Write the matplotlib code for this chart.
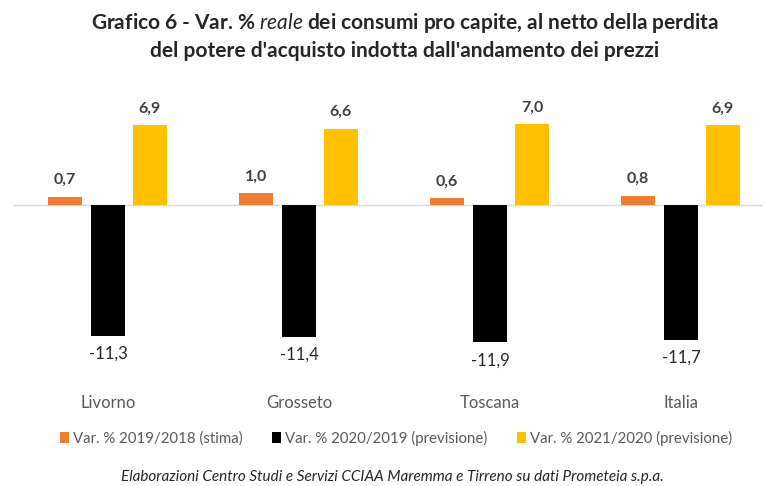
"""Grafico 6 - variazione reale dei consumi pro capite."""

import matplotlib.pyplot as plt
import numpy as np
from matplotlib.patches import Patch

categories = ["Livorno", "Grosseto", "Toscana", "Italia"]
series_names = [
    "Var. % 2019/2018 (stima)",
    "Var. % 2020/2019 (previsione)",
    "Var. % 2021/2020 (previsione)",
]
var_2019 = [0.7, 1.0, 0.6, 0.8]
var_2020 = [-11.3, -11.4, -11.9, -11.7]
var_2021 = [6.9, 6.6, 7.0, 6.9]

colors = ["#ED7D31", "#000000", "#FFC000"]
label_color = "#404040"
axis_text = "#595959"

plt.rcParams.update(
    {
        "font.family": ["Lato", "DejaVu Sans"],
        "mathtext.fontset": "custom",
        "mathtext.rm": "Lato",
        "mathtext.it": "Lato:italic",
        "mathtext.bf": "Lato:bold",
    }
)

W, H = 766, 486
fig = plt.figure(figsize=(W / 100, H / 100), dpi=100)
# axes placed in pixel coordinates of the reference
left, right, top, bottom = 12.5, 763, 100, 380
ax = fig.add_axes([left / W, 1 - bottom / H, (right - left) / W, (bottom - top) / H])

x = np.arange(len(categories))
width = 0.18
offsets = [-0.225, 0.0, 0.22]
series = [var_2019, var_2020, var_2021]

for vals, off, col in zip(series, offsets, colors):
    bars = ax.bar(x + off, vals, width, color=col, zorder=2)
    for b, v in zip(bars, vals):
        txt = f"{v:.1f}".replace(".", ",")
        if v >= 0:
            ax.annotate(txt, (b.get_x() + b.get_width() / 2, v), xytext=(0, 7),
                        textcoords="offset points", ha="center", va="bottom",
                        fontsize=11.5, fontweight="bold", color=label_color)
        else:
            ax.annotate(txt, (b.get_x() + b.get_width() / 2, v), xytext=(0, -7),
                        textcoords="offset points", ha="center", va="top",
                        fontsize=12, color="#262626")

ax.axhline(0, color="#D9D9D9", linewidth=1.0, zorder=1)
ax.set_xlim(-0.5, 3.43)
ax.set_ylim(-15.15, 9.09)
ax.axis("off")

for i, cat in enumerate(categories):
    ax.text(i, -17.1, cat, ha="center", va="center", fontsize=12, color=axis_text,
            clip_on=False)

fig.text(405 / W, 1 - 36 / H,
         "Grafico 6 - Var. % $\\it{reale}$ dei consumi pro capite, al netto della perdita\n"
         "del potere d'acquisto indotta dall'andamento dei prezzi",
         ha="center", va="center", fontsize=15, fontweight="bold", color="#262626",
         linespacing=1.4)

handles = [Patch(facecolor=c, edgecolor="none") for c in colors]
fig.legend(handles, series_names, loc="center", bbox_to_anchor=(396 / W, 1 - 438 / H),
           ncol=3, frameon=False, fontsize=10.8, handlelength=0.6, handleheight=0.8,
           handletextpad=0.25, columnspacing=2.0, labelcolor=axis_text)

fig.text(392 / W, 1 - 477 / H,
         "Elaborazioni Centro Studi e Servizi CCIAA Maremma e Tirreno su dati Prometeia s.p.a.",
         ha="center", va="center", fontsize=11, style="italic", color="#262626")

fig.savefig("out.png", dpi=100)
